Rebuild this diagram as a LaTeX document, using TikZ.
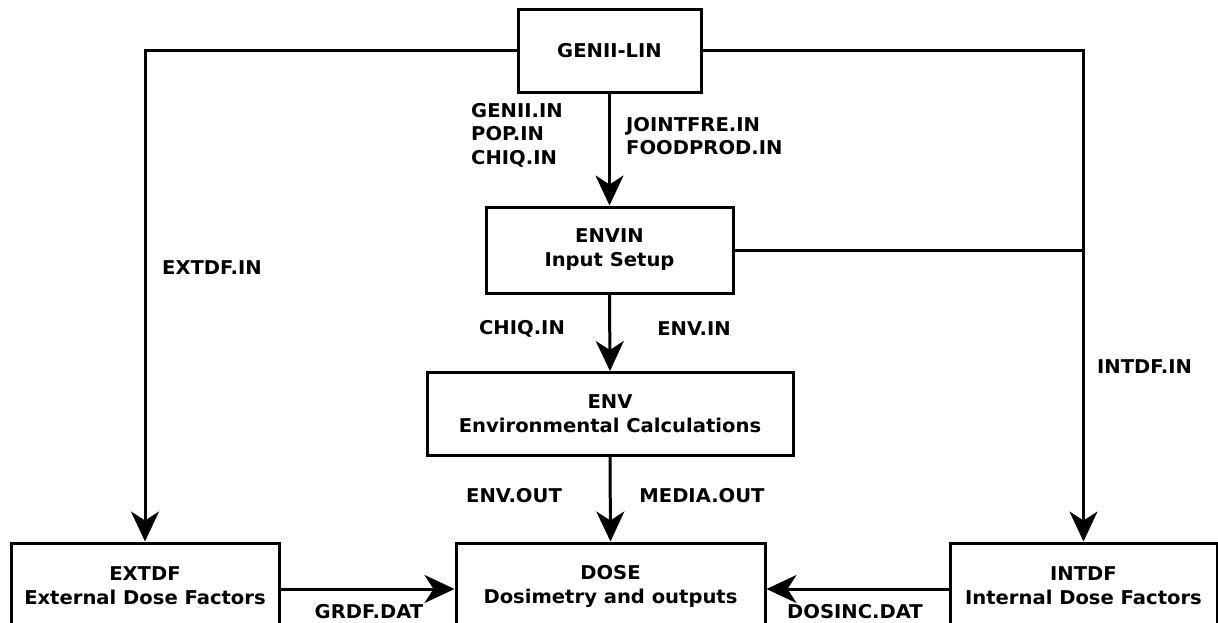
\documentclass[tikz,border=0pt]{standalone}
\usepackage{fontspec}
\setmainfont{DejaVu Sans}[FakeStretch=1.03]
\usetikzlibrary{arrows.meta}
\begin{document}
\begin{tikzpicture}[x=1pt,y=-1pt,
  box/.style={draw,line width=3pt,inner sep=0pt,align=center,font=\fontsize{19}{24}\selectfont\bfseries},
  lbl/.style={inner sep=0pt,font=\fontsize{19}{23.5}\selectfont\bfseries},
  conn/.style={line width=3pt},
  arr/.style={conn,-{Stealth[length=30pt,width=28pt,inset=9pt]}}]
\useasboundingbox (0,0) rectangle (1218,622);
\clip (0,0) rectangle (1218,622);
\node[box,minimum width=183pt,minimum height=83pt] (genii) at (609.5,50.5) {GENII-LIN};
\node[box,minimum width=247pt,minimum height=86pt] (envin) at (609.5,250) {ENVIN\\Input Setup};
\node[box,minimum width=366pt,minimum height=83pt] (env) at (610,414) {ENV\\Environmental Calculations};
\node[box,minimum width=309pt,minimum height=86pt] (dose) at (610.5,586) {DOSE\\Dosimetry and outputs};
\node[box,minimum width=268pt,minimum height=86pt] (extdf) at (145,586) {EXTDF\\External Dose Factors};
\node[box,minimum width=267pt,minimum height=86pt] (intdf) at (1083.5,586) {INTDF\\Internal Dose Factors};
\coordinate (junc) at (envin.east -| intdf.north);
\draw[arr] (genii.west) -| (extdf.north);
\draw[arr] (genii.east) -| (intdf.north);
\draw[conn] (envin.east) -- (junc);
\draw[arr] (genii.south) -- (envin.north);
\draw[arr] (envin.south) -- (env.north);
\draw[arr] (env.south) -- (dose.north);
\draw[arr] ([yshift=-3pt]extdf.east) -- ([yshift=-3pt]dose.west);
\draw[arr] ([yshift=-3pt]intdf.west) -- ([yshift=-3pt]dose.east);
\node[lbl,align=left,anchor=north west] (l1) at (471,103) {GENII.IN\\POP.IN\\CHIQ.IN};
\node[lbl,align=left,anchor=north west] (l2) at (626,117) {JOINTFRE.IN\\FOODPROD.IN};
\node[lbl] (l3) at (212,268) {EXTDF.IN};
\node[lbl,anchor=west] (l4) at (1097,367) {INTDF.IN};
\node[lbl] (l5) at (522,329) {CHIQ.IN};
\node[lbl] (l6) at (694,329) {ENV.IN};
\node[lbl] (l7) at (514,496) {ENV.OUT};
\node[lbl] (l8) at (702,496) {MEDIA.OUT};
\node[lbl] (l9) at (369,612) {GRDF.DAT};
\node[lbl] (l10) at (855,612) {DOSINC.DAT};
\end{tikzpicture}
\end{document}
